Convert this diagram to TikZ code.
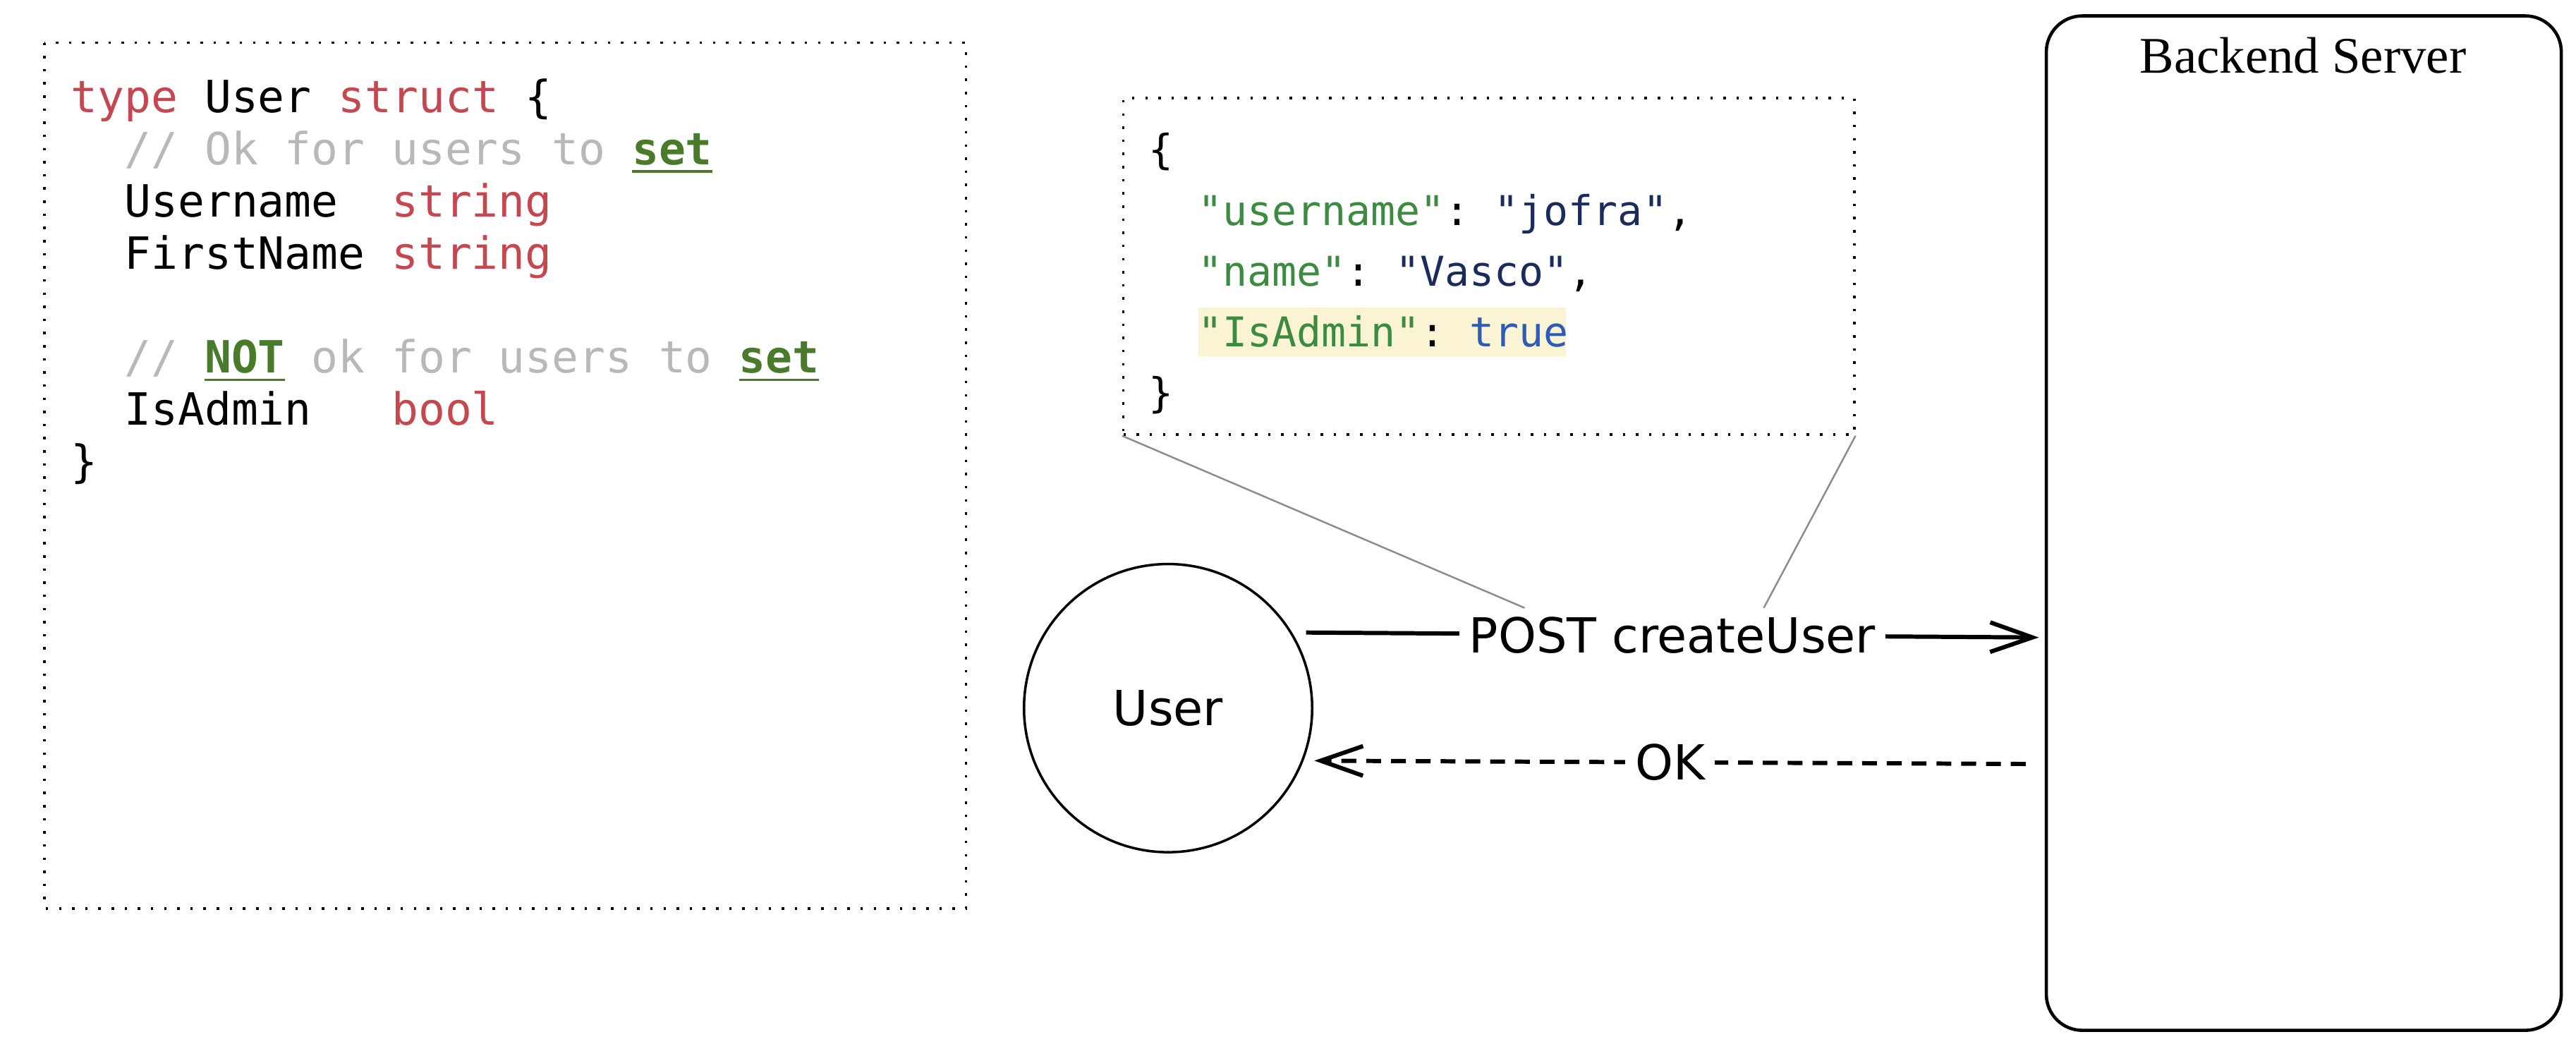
\documentclass[tikz,border=0pt]{standalone}
\usepackage{fontspec}
\setmainfont{Liberation Serif}
\setmonofont{DejaVu Sans Mono}
\newfontfamily\handfont{DejaVu Sans}
\usetikzlibrary{arrows.meta}

\definecolor{kwred}{HTML}{C5474F}
\definecolor{cmgray}{HTML}{B8B8B8}
\definecolor{setgreen}{HTML}{4A7B2B}
\definecolor{jkeygreen}{HTML}{3D8B40}
\definecolor{jstrnavy}{HTML}{1B2B5C}
\definecolor{jboolblue}{HTML}{2E5CB5}
\definecolor{hlyellow}{HTML}{FBF4D4}
\definecolor{calloutgray}{HTML}{8C8C8C}

\newsavebox\ulbox
\newcommand{\gokw}[1]{\textcolor{kwred}{#1}}
\newcommand{\gocomment}[1]{\textcolor{cmgray}{#1}}
\newcommand{\setword}[1]{\textcolor{setgreen}{\sbox\ulbox{\textbf{#1}}\usebox\ulbox\llap{\rule[-3.3pt]{\wd\ulbox}{1pt}}}}
\newcommand{\jkey}[1]{\textcolor{jkeygreen}{#1}}
\newcommand{\jstr}[1]{\textcolor{jstrnavy}{#1}}
\newcommand{\jbool}[1]{\textcolor{jboolblue}{#1}}

\begin{document}
\begin{tikzpicture}[x=0.2329mm, y=-0.2329mm,
	dotbox/.style={draw, line width=1pt, dash pattern=on 1pt off 4.3pt},
	gocode/.style={anchor=base west, inner sep=0pt, font=\ttfamily\fontsize{17.9}{21}\selectfont},
	jscode/.style={anchor=base west, inner sep=0pt, font=\ttfamily\fontsize{16.55}{20}\selectfont},
	hand/.style={font=\handfont\fontsize{19.5}{23}\selectfont},
	usercircle/.style={draw, circle, line width=1pt, minimum size=40.85mm, inner sep=0pt, hand},
	serverbox/.style={draw, rectangle, rounded corners=5.1mm, line width=1.3pt, minimum width=73mm, minimum height=143.8mm},
	msg/.style={hand, fill=white, inner xsep=4pt, inner ysep=1pt},
	reqarrow/.style={line width=1.7pt, -{Straight Barb[length=6mm, width=4.2mm]}},
	resparrow/.style={reqarrow, dash pattern=on 6pt off 4pt},
	callout/.style={draw=calloutgray, line width=0.7pt}]
	
	\useasboundingbox (0,0) rectangle (1568,635.4);
	
	\draw[dotbox] (27,26) rectangle (588,553);
	\node[gocode] (gotype) at (43,68.5) {\gokw{type} User \gokw{struct} \{};
	\node[gocode] (gocomment1) at (75.5,100.2) {\gocomment{// Ok for users to }\setword{set}};
	\node[gocode] (gousername) at (75.5,131.9) {Username~~\gokw{string}};
	\node[gocode] (gofirstname) at (75.5,163.6) {FirstName \gokw{string}};
	\node[gocode] (gocomment2) at (75.5,227) {\gocomment{// }\setword{NOT} \gocomment{ok for users to }\setword{set}};
	\node[gocode] (goisadmin) at (75.5,258.7) {IsAdmin~~~\gokw{bool}};
	\node[gocode] (goclose) at (43,290.4) {\}};
	
	\node[dotbox, minimum width=103.6mm, minimum height=47.7mm] (jsonbox) at (906.25,162.1) {};
	\fill[hlyellow] (729.5,187) rectangle (953,216.7);
	\node[jscode] (jsopen) at (699,99.8) {\{};
	\node[jscode] (jsusername) at (729,137) {\jkey{"username"}: \jstr{"jofra"},};
	\node[jscode] (jsname) at (729,174) {\jkey{"name"}: \jstr{"Vasco"},};
	\node[jscode] (jsisadmin) at (729,211) {\jkey{"IsAdmin"}: \jbool{true}};
	\node[jscode] (jsclose) at (699,248) {\}};
	
	\node[serverbox] (server) at (1402.3,318.4) {};
	\node[anchor=base, font=\fontsize{20.7}{24}\selectfont] (serverlabel) at (1401.8,44.3) {Backend Server};
	
	\node[usercircle] (user) at (711,431) {User};
	
	\coordinate (poststart) at (795,385);
	\coordinate (postend) at (1241,388);
	\coordinate (okstart) at (1233,465);
	\coordinate (okend) at (800,463);
	\coordinate (calloutleft) at (928,370);
	\coordinate (calloutright) at (1073.6,370);
	
	\draw[callout] (jsonbox.south west) -- (calloutleft);
	\draw[callout] (jsonbox.south east) -- (calloutright);
	
	\draw[reqarrow] (poststart) -- node[msg] (postlabel) {POST createUser} (postend);
	\draw[resparrow] (okstart) -- node[msg] (oklabel) {OK} (okend);
\end{tikzpicture}
\end{document}
